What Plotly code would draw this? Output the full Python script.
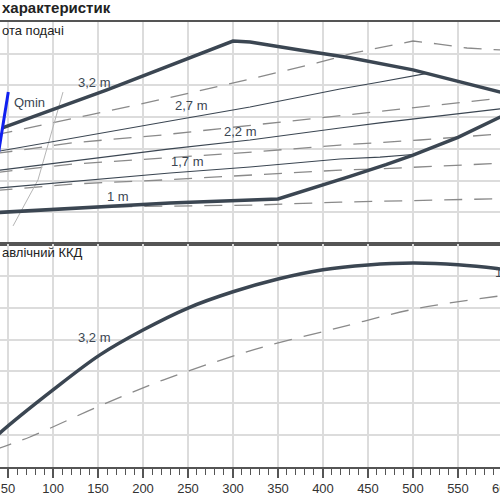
import plotly.graph_objects as go

# flow axis (m3/h) shared by both panels
x_range = [41.1, 596.7]
edge_tick = 600  # tick just past the right edge, only its first digit shows

# head panel: envelope of the 3,2 m pump (thick) and intermediate settings (thin)
env_top_x = [43.8, 160, 300, 319, 374, 430, 500, 597, 615]
env_top_y = [3.66, 4.86, 6.40, 6.37, 6.12, 5.87, 5.49, 4.79, 4.60]
env_low_x = [30, 230, 350, 390, 430, 470, 500, 550, 590, 615]
env_low_y = [0.98, 1.29, 1.42, 1.77, 2.13, 2.50, 2.80, 3.36, 3.90, 4.25]

h27_x = [35, 41.1, 230, 318.9, 418.9, 463.3, 515.6]
h27_y = [2.90, 2.93, 3.88, 4.32, 4.89, 5.11, 5.38]
h22_x = [35, 41.1, 230, 318.9, 418.9, 463.3, 596.7, 615]
h22_y = [2.31, 2.33, 3.00, 3.28, 3.66, 3.82, 4.26, 4.31]
h17_x = [35, 41.1, 230, 318.9, 418.9, 463.3, 500]
h17_y = [1.75, 1.77, 2.24, 2.43, 2.68, 2.74, 2.82]

# dashed comparison curves
d1_x = [35, 41.1, 141.1, 222.2, 318.9, 393.3, 433.3, 500, 526.7, 560, 596.7, 615]
d1_y = [3.45, 3.47, 4.07, 4.57, 5.20, 5.71, 6.02, 6.40, 6.31, 6.18, 6.12, 6.08]
d2_x = [35, 41.1, 121.1, 222.2, 322.2, 418.9, 463.3, 596.7, 615]
d2_y = [2.85, 2.87, 3.19, 3.44, 3.75, 4.04, 4.19, 4.59, 4.65]
d3_x = [35, 41.1, 121.1, 222.2, 322.2, 418.9, 507.8, 596.7, 615]
d3_y = [2.25, 2.27, 2.52, 2.71, 2.90, 3.12, 3.28, 3.47, 3.51]
d4_x = [35, 41.1, 121.1, 222.2, 324.4, 418.9, 463.3, 596.7, 615]
d4_y = [1.68, 1.70, 1.89, 2.02, 2.18, 2.33, 2.37, 2.54, 2.57]
d5_x = [35, 41.1, 160, 326.7, 418.9, 596.7, 615]
d5_y = [0.96, 0.98, 1.17, 1.23, 1.32, 1.42, 1.44]

sys_x = [55.6, 83.3, 111.1]
sys_y = [0.57, 2.02, 4.79]
qmin_x = [39.0, 50.3]
qmin_y = [2.80, 4.79]

head_labels = ["3,2 m", "2,7 m", "2,2 m", "1,7 m", "1 m"]
head_label_x = [145.6, 254.4, 307.8, 249.4, 172.2]
head_label_y = [5.08, 4.38, 3.56, 2.59, 1.51]

# efficiency panel (%)
eta_x = [35, 41.1, 100, 152.2, 200, 250, 300, 350, 400, 450, 500, 550, 593.3, 615]
eta_y = [9.0, 10.7, 24.2, 35.2, 43.0, 49.9, 55.0, 59.0, 61.9, 63.4, 64.0, 63.5, 62.3, 61.4]
eta_d_x = [35, 41.1, 74.4, 148.9, 222.2, 300, 337.8, 415.6, 496.7, 541.1, 596.7, 615]
eta_d_y = [5.2, 5.96, 9.42, 18.8, 27.3, 34.8, 38.0, 43.6, 49.3, 51.5, 53.7, 54.3]

DARK = "#3b4652"
DASH = "#8a8a8a"
GRID = "#dcdcdc"
FONT = "Liberation Sans"

fig = go.Figure()

def add(x, y, color, width, dash="solid", axes=("x", "y"), shape="linear"):
    fig.add_trace(go.Scatter(
        x=x, y=y, mode="lines", xaxis=axes[0], yaxis=axes[1],
        line=dict(color=color, width=width, dash=dash, shape=shape),
        hoverinfo="skip", showlegend=False,
    ))

for dx, dy in [(d1_x, d1_y), (d2_x, d2_y), (d3_x, d3_y), (d4_x, d4_y), (d5_x, d5_y)]:
    add(dx, dy, DASH, 1.3, "18px,12px")
add(sys_x, sys_y, "#b5b5b5", 1)
for hx, hy in [(h27_x, h27_y), (h22_x, h22_y), (h17_x, h17_y)]:
    add(hx, hy, DARK, 1.1)
add(env_top_x, env_top_y, DARK, 3.5)
add(env_low_x, env_low_y, DARK, 3.5)
add(qmin_x, qmin_y, "#1020f0", 3)

add(eta_d_x, eta_d_y, DASH, 1.3, "18px,12px", ("x2", "y2"), "spline")
add(eta_x, eta_y, DARK, 3.5, axes=("x2", "y2"), shape="spline")

split = 223 / 445
plot_h = 445  # plot area height in px (500 - top and bottom margins)

annotations = []
for txt, ax_, ay_ in zip(head_labels, head_label_x, head_label_y):
    annotations.append(dict(x=ax_, y=ay_, xref="x", yref="y", text=txt, showarrow=False,
                            font=dict(size=13, color=DARK, family=FONT)))
annotations += [
    dict(x=54.4, y=4.45, xref="x", yref="y", text="Qmin", showarrow=False, xanchor="left",
         font=dict(size=13, color=DARK, family=FONT)),
    dict(x=146.1, y=40.6, xref="x2", yref="y2", text="3,2 m", showarrow=False,
         font=dict(size=13, color=DARK, family=FONT)),
    dict(x=589, y=60.9, xref="x2", yref="y2", text="1 m", showarrow=False, xanchor="left",
         font=dict(size=13, color=DARK, family=FONT)),
    # tick label of the first tick beyond the axis range (plotly drops it)
    dict(x=(edge_tick - x_range[0]) / (x_range[1] - x_range[0]), y=-21 / plot_h,
         xref="paper", yref="paper", text=str(edge_tick), showarrow=False,
         xanchor="center", yanchor="middle", font=dict(size=13, color="#333", family=FONT)),
    dict(x=0, y=1.033, xref="paper", yref="paper", text="<b>характеристик</b>", showarrow=False,
         xanchor="left", yanchor="middle", font=dict(size=15, color="#222", family=FONT)),
    dict(x=0, y=0.980, xref="paper", yref="paper", text="ота подачі", showarrow=False,
         xanchor="left", yanchor="middle", font=dict(size=13, color="#222", family=FONT)),
    dict(x=0, y=0.481, xref="paper", yref="paper", text="авлічний ККД", showarrow=False,
         xanchor="left", yanchor="middle", font=dict(size=13, color="#222", family=FONT)),
]

fig.update_layout(
    width=500, height=500,
    margin=dict(l=0, r=0, t=22, b=33),
    paper_bgcolor="white", plot_bgcolor="white",
    font=dict(family=FONT, size=13, color="#333"),
    annotations=annotations,
    xaxis=dict(range=x_range, anchor="y", domain=[0, 1], dtick=50, tick0=0,
               showgrid=True, gridcolor=GRID, gridwidth=1.5, showticklabels=False,
               showline=True, linecolor="#555", linewidth=1.5, mirror=True, zeroline=False),
    yaxis=dict(range=[0, 7], domain=[split, 1], anchor="x", dtick=1,
               showgrid=True, gridcolor=GRID, gridwidth=1.5, showticklabels=False, zeroline=False),
    xaxis2=dict(range=x_range, anchor="y2", domain=[0, 1], dtick=50, tick0=0,
                showgrid=True, gridcolor=GRID, gridwidth=1.5,
                showline=True, linecolor="#555", linewidth=1.5, mirror=True, zeroline=False,
                ticks="outside", ticklen=9, tickwidth=1.5, tickcolor="#555",
                ticklabeloverflow="allow",
                tickfont=dict(size=13, color="#333", family=FONT),
                minor=dict(dtick=10, ticks="outside", ticklen=6, tickwidth=1.2,
                           tickcolor="#555", showgrid=False)),
    yaxis2=dict(range=[0, 70], domain=[0, split], anchor="x2", dtick=10,
                showgrid=True, gridcolor=GRID, gridwidth=1.5, showticklabels=False, zeroline=False),
)

# the page's default body margin would shift the 500x500 figure by 8px
fig.write_html(
    "out.html",
    config={"displayModeBar": False},
    post_script="document.body.style.margin='0';",
)
